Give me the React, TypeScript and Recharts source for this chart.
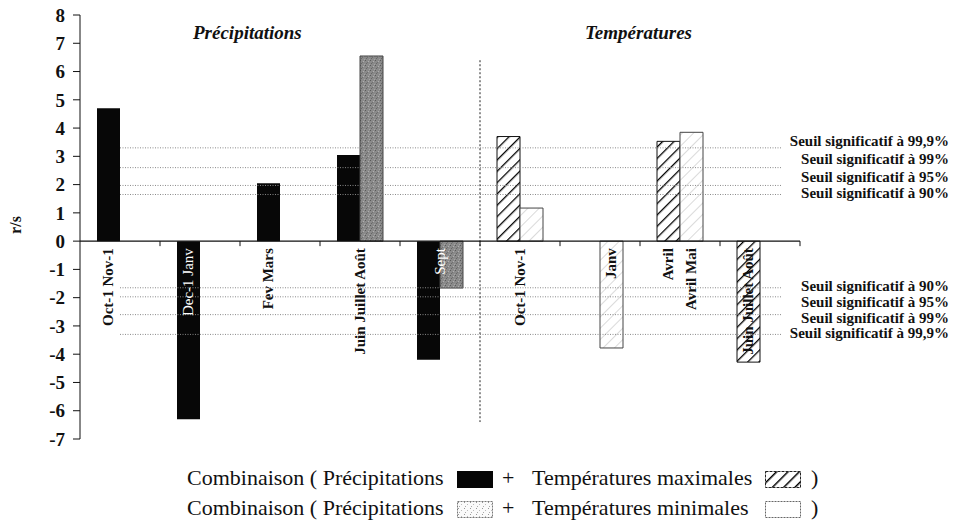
import {
  BarChart,
  Bar,
  XAxis,
  YAxis,
  ReferenceLine,
  Label,
} from "recharts";

// period labels, one per category slot on the x axis
const categories = [
  "Oct-1 Nov-1",
  "Dec-1 Janv",
  "Fev Mars",
  "Juin Juillet Août",
  "Sept",
  "Oct-1 Nov-1",
  "Janv",
  "Avril",
  "Juin Juillet Août",
];
// second label when the second bar has its own period
const secondLabels = [null, null, null, null, null, null, null, "Avril Mai", null];

// r/s values
const precipMain = [4.7, -6.3, 2.05, 3.05, -4.2, null, null, null, null];
const precipSecond = [null, null, null, 6.55, -1.66, null, null, null, null];
const tempMax = [null, null, null, null, null, 3.7, null, 3.53, -4.28];
const tempMin = [null, null, null, null, null, 1.17, -3.78, 3.85, null];

const yTicks = [-7, -6, -5, -4, -3, -2, -1, 0, 1, 2, 3, 4, 5, 6, 7, 8];
const thresholds = [1.65, 1.97, 2.6, 3.3];
const thresholdNames = ["90%", "95%", "99%", "99,9%"];

const rows = categories.map((c, i) => ({
  id: i,
  precipMain: precipMain[i],
  tempMax: tempMax[i],
  precipSecond: precipSecond[i],
  tempMin: tempMin[i],
}));

// layout
const W = 953;
const H = 525;
const PLOT_LEFT = 80;
const PLOT_RIGHT = 800;
const PLOT_TOP = 15;
const PLOT_BOTTOM = 439;
const Y_MIN = -7;
const Y_MAX = 8;
const ZERO_Y = PLOT_TOP + ((PLOT_BOTTOM - PLOT_TOP) * Y_MAX) / (Y_MAX - Y_MIN);
const BAND = (PLOT_RIGHT - PLOT_LEFT) / categories.length;
const BAR = 23;
const SERIF = '"Liberation Serif", serif';

// vertical nudge of the threshold captions so they don't collide
const labelNudge = { pos: [-1, -8, -9, -7], neg: [-2, 5, 3, -1] };

function PeriodTick(props: any) {
  const { x, payload } = props;
  const i = payload.value;
  const s1 = precipMain[i] ?? tempMax[i];
  const s2 = precipSecond[i] ?? tempMin[i];
  const white = (precipMain[i] ?? 0) < 0 || (precipSecond[i] ?? 0) < 0;
  const items: { cx: number; text: string }[] = [];
  if (secondLabels[i]) {
    items.push({ cx: x - BAR / 2, text: categories[i] });
    items.push({ cx: x + BAR / 2, text: secondLabels[i] as string });
  } else if (s1 != null && s2 != null) {
    items.push({ cx: x, text: categories[i] });
  } else if (s1 != null) {
    items.push({ cx: x - BAR / 2, text: categories[i] });
  } else {
    items.push({ cx: x + BAR / 2, text: categories[i] });
  }
  const tx = x + BAND / 2;
  return (
    <g>
      <line x1={tx} x2={tx} y1={ZERO_Y} y2={ZERO_Y + 5} stroke="#111" strokeWidth={1} />
      {items.map((it, k) => (
        <text
          key={k}
          x={it.cx}
          y={ZERO_Y + 7}
          transform={`rotate(-90 ${it.cx} ${ZERO_Y + 7})`}
          textAnchor="end"
          dominantBaseline="central"
          fontFamily={SERIF}
          fontSize={15}
          fontWeight={white ? 400 : 700}
          fill={white ? "#fff" : "#111"}
        >
          {it.text}
        </text>
      ))}
    </g>
  );
}

function thresholdCaption(k: number, dy: number) {
  return function Caption(p: any) {
    const vb = p.viewBox || {};
    const yy = (vb.y ?? 0) + (vb.height ?? 0) / 2 + dy;
    return (
      <text
        x={W - 4}
        y={yy}
        textAnchor="end"
        dominantBaseline="central"
        fontFamily={SERIF}
        fontSize={15}
        fontWeight={700}
        fill="#111"
      >
        {"Seuil significatif à " + thresholdNames[k]}
      </text>
    );
  };
}

function AxisTitle(p: any) {
  const vb = p.viewBox || {};
  const cx = 15;
  const cy = vb.y + vb.height / 2 - 2;
  return (
    <text
      x={cx}
      y={cy}
      transform={`rotate(-90 ${cx} ${cy})`}
      textAnchor="middle"
      dominantBaseline="central"
      fontFamily={SERIF}
      fontSize={16}
      fontWeight={700}
      fill="#111"
    >
      r/s
    </text>
  );
}

function Swatch({ kind }: { kind: string }) {
  return (
    <svg width={36} height={17} style={{ display: "block" }}>
      <defs>
        <pattern id={"lg-" + kind} width="8" height="8" patternUnits="userSpaceOnUse" patternTransform="rotate(45)">
          <line x1="0" y1="0" x2="0" y2="8" stroke="#000" strokeWidth="3" />
        </pattern>
        <pattern id={"lgdot-" + kind} width="6" height="6" patternUnits="userSpaceOnUse">
          <rect x="1" y="1" width="1" height="1" fill="#999" />
          <rect x="4" y="3" width="1" height="1" fill="#bbb" />
          <rect x="2" y="5" width="1" height="1" fill="#aaa" />
        </pattern>
      </defs>
      {kind === "black" && <rect x={0} y={0} width={36} height={17} fill="#050505" />}
      {kind === "hatch" && (
        <rect x={0.5} y={0.5} width={35} height={16} fill={"url(#lg-" + kind + ")"} stroke="#222" strokeDasharray="3 1" />
      )}
      {kind === "dots" && (
        <g>
          <rect x={0.5} y={0.5} width={35} height={16} fill="#fafafa" stroke="#777" strokeDasharray="2 1" />
          <rect x={0.5} y={0.5} width={35} height={16} fill={"url(#lgdot-" + kind + ")"} />
        </g>
      )}
      {kind === "empty" && (
        <rect x={0.5} y={0.5} width={35} height={16} fill="#fff" stroke="#666" strokeDasharray="2 1" />
      )}
    </svg>
  );
}

function LegendLine({ top, left, right, sw1, sw2 }: any) {
  const base = { position: "absolute" as const, top, fontSize: 22, lineHeight: "24px", whiteSpace: "nowrap" as const };
  return (
    <>
      <span style={{ ...base, left: 187 }}>{left}</span>
      <span style={{ position: "absolute", top: top + 5, left: 457 }}>
        <Swatch kind={sw1} />
      </span>
      <span style={{ ...base, left: 502 }}>+</span>
      <span style={{ ...base, left: 532 }}>{right}</span>
      <span style={{ position: "absolute", top: top + 5, left: 765 }}>
        <Swatch kind={sw2} />
      </span>
      <span style={{ ...base, left: 811 }}>)</span>
    </>
  );
}

export default function App() {
  return (
    <div style={{ position: "absolute", left: 0, top: 0, width: W, height: H, background: "#fff", fontFamily: SERIF, color: "#111" }}>
      <BarChart
        width={W}
        height={H}
        data={rows}
        margin={{ top: PLOT_TOP, right: W - PLOT_RIGHT, bottom: H - PLOT_BOTTOM - 1, left: 0 }}
        barSize={BAR}
        barGap={0}
        stackOffset="sign"
      >
        <defs>
          <pattern id="hatchBold" width="8" height="8" patternUnits="userSpaceOnUse" patternTransform="rotate(45)">
            <rect width="8" height="8" fill="#fff" />
            <line x1="0" y1="0" x2="0" y2="8" stroke="#000" strokeWidth="2.6" />
          </pattern>
          <pattern id="hatchLight" width="8" height="8" patternUnits="userSpaceOnUse" patternTransform="rotate(45)">
            <rect width="8" height="8" fill="#fff" />
            <line x1="0" y1="0" x2="0" y2="8" stroke="#b5b5b5" strokeWidth="1" />
          </pattern>
          <pattern id="stipple" width="5" height="5" patternUnits="userSpaceOnUse">
            <rect width="5" height="5" fill="#8a8a8a" />
            <rect x="0" y="0" width="1" height="1" fill="#5a5a5a" />
            <rect x="3" y="1" width="1" height="1" fill="#b0b0b0" />
            <rect x="1" y="3" width="1" height="1" fill="#666" />
            <rect x="4" y="4" width="1" height="1" fill="#a5a5a5" />
            <rect x="2" y="2" width="1" height="1" fill="#707070" />
          </pattern>
        </defs>
        <XAxis
          dataKey="id"
          height={1}
          axisLine={false}
          tickLine={false}
          interval={0}
          tick={<PeriodTick />}
        />
        <XAxis
          xAxisId="n"
          dataKey="id"
          type="number"
          domain={[-0.5, categories.length - 0.5]}
          allowDataOverflow
          hide
        />
        <YAxis
          domain={[Y_MIN, Y_MAX]}
          ticks={yTicks}
          interval={0}
          width={PLOT_LEFT}
          stroke="#111"
          tickSize={7}
          tickMargin={8}
          tick={{ fontFamily: SERIF, fontSize: 19, fontWeight: 700, fill: "#111" }}
        >
          <Label content={<AxisTitle />} />
        </YAxis>

        {thresholds.map((t, k) => (
          <ReferenceLine
            key={"p" + k}
            xAxisId="n"
            segment={[
              { x: 0, y: t },
              { x: 8.28, y: t },
            ]}
            stroke="#8a8a8a"
            strokeDasharray="1 1.5"
            label={thresholdCaption(k, labelNudge.pos[k])}
          />
        ))}
        {thresholds.map((t, k) => (
          <ReferenceLine
            key={"n" + k}
            xAxisId="n"
            segment={[
              { x: 0, y: -t },
              { x: 8.28, y: -t },
            ]}
            stroke="#8a8a8a"
            strokeDasharray="1 1.5"
            label={thresholdCaption(k, labelNudge.neg[k])}
          />
        ))}
        <ReferenceLine
          xAxisId="n"
          segment={[
            { x: 4.5, y: 6.4 },
            { x: 4.5, y: -6.4 },
          ]}
          stroke="#222"
          strokeDasharray="2 2"
        />

        <Bar dataKey="precipMain" stackId="s1" fill="#070707" isAnimationActive={false} />
        <Bar dataKey="tempMax" stackId="s1" fill="url(#hatchBold)" stroke="#111" strokeWidth={1} isAnimationActive={false} />
        <Bar dataKey="precipSecond" stackId="s2" fill="url(#stipple)" stroke="#444" strokeWidth={1} isAnimationActive={false} />
        <Bar dataKey="tempMin" stackId="s2" fill="url(#hatchLight)" stroke="#444" strokeWidth={1} isAnimationActive={false} />

        <ReferenceLine y={0} stroke="#111" strokeWidth={1.2} />
      </BarChart>

      <div style={{ position: "absolute", left: 193, top: 23, fontSize: 19, lineHeight: "19px", fontStyle: "italic", fontWeight: 700 }}>
        Précipitations
      </div>
      <div style={{ position: "absolute", left: 585, top: 23, fontSize: 19, lineHeight: "19px", fontStyle: "italic", fontWeight: 700 }}>
        Températures
      </div>

      <LegendLine top={466} left="Combinaison ( Précipitations" right="Températures maximales" sw1="black" sw2="hatch" />
      <LegendLine top={496} left="Combinaison ( Précipitations" right="Températures minimales" sw1="dots" sw2="empty" />
    </div>
  );
}
